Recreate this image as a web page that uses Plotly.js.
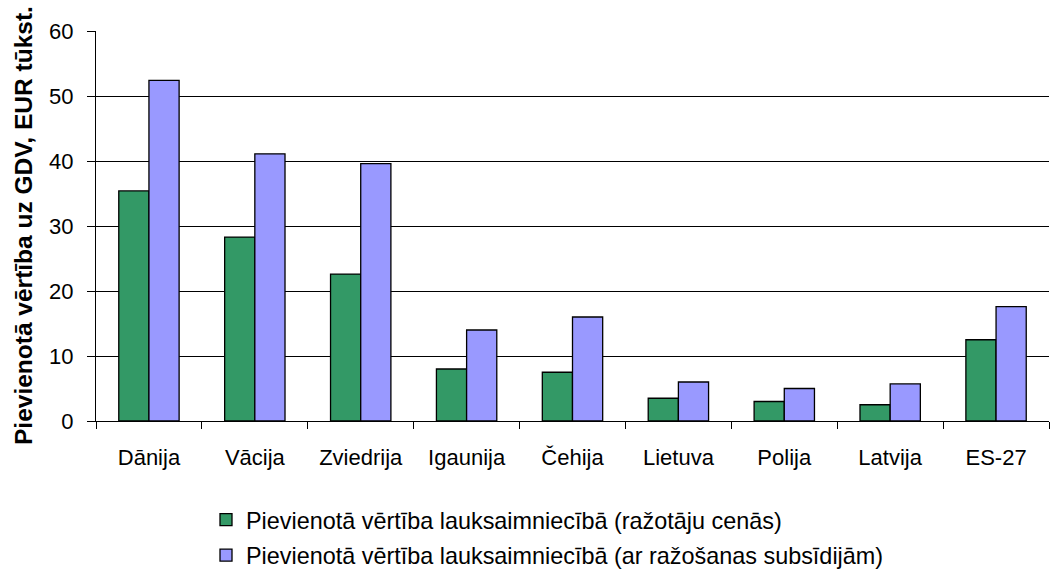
<!DOCTYPE html>
<html>
<head>
<meta charset="utf-8">
<script src="https://cdn.plot.ly/plotly-3.0.1.min.js"></script>
<style>html,body{margin:0;padding:0;background:#fff;}#chart{width:1051px;height:570px;}</style>
</head>
<body>
<div id="chart"></div>
<script>
const categories = ["Dānija", "Vācija", "Zviedrija", "Igaunija", "Čehija", "Lietuva", "Polija", "Latvija", "ES-27"];
const producerPrices = [35.4, 28.3, 22.6, 8.0, 7.5, 3.5, 3.0, 2.5, 12.5];
const withSubsidies = [52.4, 41.1, 39.6, 14.0, 16.0, 6.0, 5.0, 5.7, 17.6];
const seriesNames = ["Pievienotā vērtība lauksaimniecībā (ražotāju cenās)", "Pievienotā vērtība lauksaimniecībā (ar ražošanas subsīdijām)"];
const yTicks = [0, 10, 20, 30, 40, 50, 60];
const yTitle = "Pievienotā vērtība uz GDV, EUR tūkst.";

const font = "Liberation Sans, Arial, sans-serif";
const traces = [
  {type: "bar", name: seriesNames[0], x: categories, y: producerPrices, legendgroup: "a",
   marker: {color: "#339966", line: {color: "#000", width: 1.3}}},
  {type: "bar", name: seriesNames[1], x: categories, y: withSubsidies, legendgroup: "b",
   marker: {color: "#9999FF", line: {color: "#000", width: 1.3}}}
];
const layout = {
  width: 1051, height: 570,
  margin: {l: 96, r: 2, t: 31, b: 149, autoexpand: false},
  paper_bgcolor: "#fff", plot_bgcolor: "#fff",
  font: {family: font, color: "#000", size: 22},
  barmode: "group", bargap: 0.43, bargroupgap: 0,
  showlegend: true,
  legend: {orientation: "v", xref: "container", yref: "container", x: 206 / 1051, xanchor: "left", y: 1 - 498 / 570, yanchor: "top",
           font: {family: font, size: 23.4, color: "#000"}, tracegroupgap: 2, itemwidth: 30},
  xaxis: {
    type: "category", showline: true, linecolor: "#000", linewidth: 1, automargin: false,
    ticks: "outside", tickson: "boundaries", ticklen: 7, tickcolor: "#000", ticklabelstandoff: 17,
    tickfont: {family: font, size: 22, color: "#000"}, showgrid: false, zeroline: false
  },
  yaxis: {
    range: [0, 60], tickvals: yTicks, ticktext: yTicks.map(String), automargin: false,
    showline: true, linecolor: "#000", linewidth: 1,
    ticks: "outside", ticklen: 8, tickcolor: "#000", ticklabelstandoff: 9,
    showgrid: true, gridcolor: "#000", gridwidth: 1, zeroline: false,
    tickfont: {family: font, size: 22, color: "#000"}
  },
  annotations: [{
    text: "<b>" + yTitle + "</b>", textangle: -90, showarrow: false,
    xref: "paper", yref: "paper", x: 0, y: 0.5, xanchor: "center", yanchor: "middle", xshift: -73,
    font: {family: font, size: 24.5, color: "#000"}
  }]
};
Plotly.newPlot("chart", traces, layout, {displayModeBar: false, staticPlot: true});
</script>
</body>
</html>
